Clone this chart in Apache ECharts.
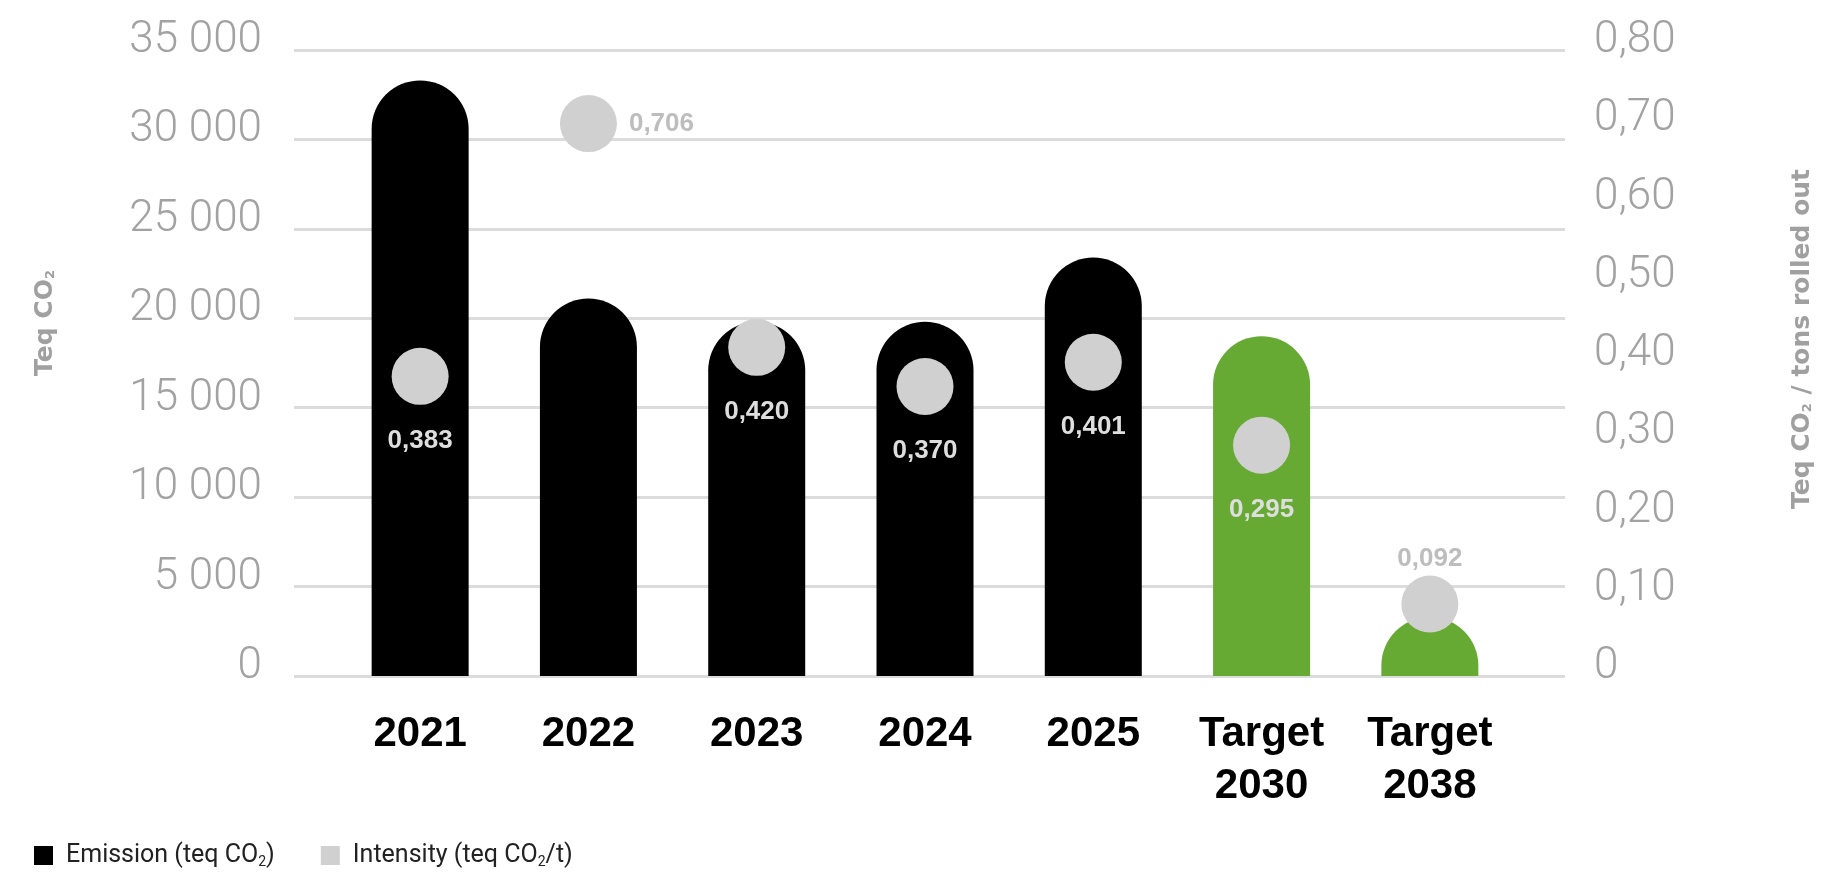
<!DOCTYPE html>
<html>
<head>
<meta charset="utf-8">
<script src="https://cdn.jsdelivr.net/npm/echarts@6/dist/echarts.min.js"></script>
<style>
  html, body { margin: 0; padding: 0; background: #fff; }
  #chart { width: 1824px; height: 872px; }
</style>
</head>
<body>
<div id="chart"></div>
<script>
// data
const categories = ['2021', '2022', '2023', '2024', '2025', 'Target\n2030', 'Target\n2038'];
const emissions = [33300, 21100, 19800, 19800, 23400, 19000, 3300];
const intensity = [0.383, 0.706, 0.420, 0.370, 0.401, 0.295, 0.092];
const emissionTicks = [0, 5000, 10000, 15000, 20000, 25000, 30000, 35000];
const intensityTicks = [0, 0.1, 0.2, 0.3, 0.4, 0.5, 0.6, 0.7, 0.8];

const GREEN = '#66aa33';
const DOT = '#d0d0d0';
const TICK_GRAY = '#a2a2a2';
const TITLE_GRAY = '#a0a0a0';
const lightFont = "'Helvetica Neue', Roboto, 'Liberation Sans', sans-serif";
const boldFont = "'Helvetica Neue', 'Liberation Sans', Arial, sans-serif";
const titleFont = "'DejaVu Sans', 'Liberation Sans', sans-serif";

// where each intensity label sits relative to its dot
const labelSide = { '2022': 'right', 'Target\n2038': 'top' };

const fmtThousands = v => String(v).replace(/\B(?=(\d{3})+(?!\d))/g, ' ');
const fmtComma = (v, d) => (v === 0 ? '0' : v.toFixed(d).replace('.', ','));

const titleRich = {
  t: { fontFamily: titleFont, fontWeight: 'bold', fontSize: 25, fill: TITLE_GRAY },
  s: { fontFamily: titleFont, fontWeight: 'bold', fontSize: 13, fill: TITLE_GRAY, verticalAlign: 'bottom', padding: [12, 0, 0, 0] }
};

// tick labels sit a little above their grid line
const tickLabel = {
  color: TICK_GRAY,
  fontFamily: lightFont,
  fontWeight: 300,
  fontSize: 44,
  verticalAlign: 'bottom',
  lineHeight: 18
};

const chart = echarts.init(document.getElementById('chart'));

const option = {
  animation: false,
  grid: [
    // grid 0 only carries the split lines and both value axes
    { left: 294, right: 259, top: 50, bottom: 196 },
    // grid 1 holds the bars and dots (narrower band, like the original)
    { left: 336, right: 310, top: 50, bottom: 196 }
  ],
  xAxis: [
    { gridIndex: 0, type: 'value', show: false, min: 0, max: 1 },
    {
      gridIndex: 1,
      type: 'category',
      data: categories,
      axisLine: { show: false },
      axisTick: { show: false },
      axisLabel: {
        interval: 0,
        margin: 32,
        color: '#000',
        fontFamily: boldFont,
        fontWeight: 'bold',
        fontSize: 42,
        lineHeight: 52
      }
    }
  ],
  yAxis: [
    {
      gridIndex: 0,
      type: 'value',
      position: 'left',
      min: emissionTicks[0],
      max: emissionTicks[emissionTicks.length - 1],
      interval: emissionTicks[1] - emissionTicks[0],
      axisLine: { show: false },
      axisTick: { show: false },
      splitLine: { lineStyle: { color: '#dcdcdc', width: 3 } },
      axisLabel: Object.assign({ margin: 32, formatter: v => fmtThousands(v) }, tickLabel)
    },
    {
      gridIndex: 0,
      type: 'value',
      position: 'right',
      min: intensityTicks[0],
      max: intensityTicks[intensityTicks.length - 1],
      interval: 0.1,
      axisLine: { show: false },
      axisTick: { show: false },
      splitLine: { show: false },
      axisLabel: Object.assign({ margin: 29, formatter: v => fmtComma(v, 2) }, tickLabel)
    },
    { gridIndex: 1, type: 'value', show: false, min: 0, max: 35000 },
    { gridIndex: 1, type: 'value', show: false, min: 0, max: 0.8 }
  ],
  legend: {
    left: 29,
    top: 838,
    itemWidth: 19,
    itemHeight: 19,
    itemGap: 46,
    icon: 'rect',
    data: ['Emission (teq CO2)', 'Intensity (teq CO2/t)'],
    formatter: name => name.startsWith('Emission')
      ? '{t|Emission (teq CO}{s|2}{t|)}'
      : '{t|Intensity (teq CO}{s|2}{t|/t)}',
    textStyle: {
      padding: [0, 0, 0, 8],
      rich: {
        t: { fontFamily: lightFont, fontSize: 25, color: '#222' },
        s: { fontFamily: lightFont, fontSize: 14, color: '#222', verticalAlign: 'bottom', padding: [14, 0, 0, 0] }
      }
    }
  },
  graphic: [
    {
      type: 'text',
      x: 45,
      y: 323,
      rotation: Math.PI / 2,
      style: { text: '{t|Teq CO}{s|2}', align: 'center', verticalAlign: 'middle', rich: titleRich }
    },
    {
      type: 'text',
      x: 1802,
      y: 339,
      rotation: Math.PI / 2,
      style: { text: '{t|Teq CO}{s|2}{t| / tons rolled out}', align: 'center', verticalAlign: 'middle', rich: titleRich }
    }
  ],
  series: [
    {
      name: 'Emission (teq CO2)',
      type: 'bar',
      xAxisIndex: 1,
      yAxisIndex: 2,
      barWidth: 97,
      itemStyle: { color: '#000', borderRadius: [49, 49, 0, 0] },
      data: emissions.map((v, i) => ({
        value: v,
        itemStyle: { color: categories[i].startsWith('Target') ? GREEN : '#000' }
      }))
    },
    {
      name: 'Intensity (teq CO2/t)',
      type: 'scatter',
      xAxisIndex: 1,
      yAxisIndex: 3,
      symbolSize: 57,
      z: 5,
      itemStyle: { color: DOT, opacity: 1 },
      label: {
        show: true,
        position: 'bottom',
        distance: 23,
        fontFamily: boldFont,
        fontWeight: 'bold',
        fontSize: 26,
        color: '#dedede',
        formatter: p => fmtComma(p.value, 3)
      },
      data: intensity.map((v, i) => {
        const side = labelSide[categories[i]];
        const item = { value: v };
        if (side) {
          item.label = { position: side, distance: side === 'top' ? 4 : 12, color: '#bdbdbd' };
        }
        return item;
      })
    }
  ]
};

chart.setOption(option);
</script>
</body>
</html>
